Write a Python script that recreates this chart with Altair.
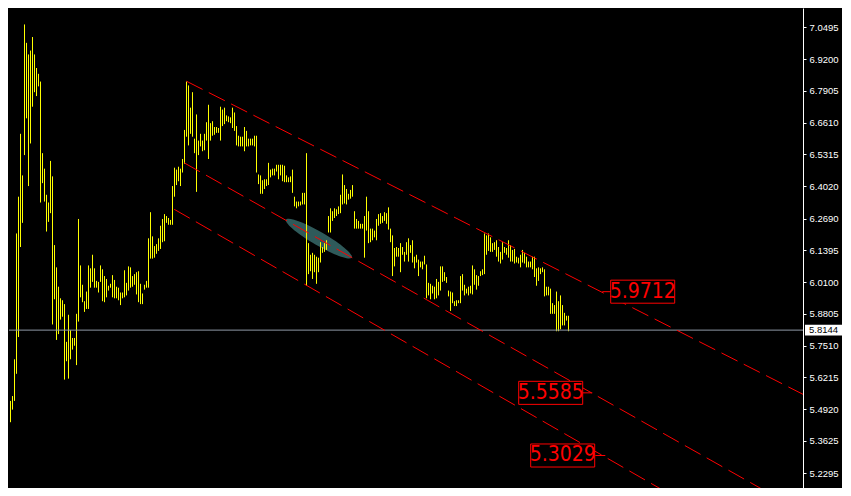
import altair as alt
import pandas as pd

# ---------------- data ----------------
bar_high = [
    5.5256, 5.5454, 5.6954, 6.2087, 6.3587, 6.6153, 6.4455, 7.0614, 6.9864, 6.9390,
    6.9548, 7.0101, 6.9390, 6.8837, 6.8600, 6.8284, 6.5363, 6.4731, 6.3665, 6.3350,
    6.5047, 6.4416, 6.1613, 6.0704, 5.9915, 5.9441, 5.9362, 5.9204, 5.7665, 5.8770,
    5.8139, 5.7823, 5.7823, 5.8809, 6.2678, 6.0783, 5.9994, 5.9323, 5.9717, 6.0783,
    6.0665, 6.1218, 6.0665, 6.0152, 6.0112, 6.0783, 6.0625, 6.0349, 6.0231, 5.9954,
    6.0033, 6.0388, 6.0191, 5.9915, 5.9875, 5.9678, 5.9678, 6.0586, 6.0073, 6.0744,
    6.0704, 6.0349, 6.0428, 6.0507, 6.0546, 6.0033, 5.9639, 5.9994, 6.0152, 6.1889,
    6.2955, 6.1968, 6.1573, 6.1652, 6.1889, 6.2402, 6.2678, 6.2876, 6.2797, 6.2718,
    6.2639, 6.4021, 6.4771, 6.4692, 6.4810, 6.4731, 6.5126, 6.6311, 6.8284, 6.8127,
    6.7219, 6.7850, 6.5955, 6.6942, 6.5876, 6.6153, 6.5876, 6.6153, 6.6626, 6.7337,
    6.6587, 6.6666, 6.6429, 6.6429, 6.6390, 6.7258, 6.7140, 6.7219, 6.6903, 6.6863,
    6.6824, 6.7219, 6.7022, 6.6468, 6.6074, 6.6034, 6.6034, 6.6429, 6.6271, 6.5955,
    6.5955, 6.5955, 6.6074, 6.6074, 6.4494, 6.4455, 6.4258, 6.4297, 6.4297, 6.4968,
    6.4692, 6.4731, 6.4731, 6.4889, 6.4889, 6.4889, 6.4889, 6.4850, 6.4455, 6.4376,
    6.4416, 6.4692, 6.3587, 6.3389, 6.3389, 6.3389, 6.3744, 6.3744, 6.5363, 6.1692,
    6.1218, 6.1297, 6.1218, 6.1139, 6.1099, 6.1731, 6.1534, 6.1692, 6.1810, 6.2797,
    6.3113, 6.2994, 6.3113, 6.3074, 6.3192, 6.3666, 6.4494, 6.4061, 6.3902, 6.3705,
    6.3863, 6.4061, 6.2994, 6.2678, 6.2599, 6.2481, 6.2481, 6.2797, 6.3587, 6.2994,
    6.2284, 6.2284, 6.2205, 6.2678, 6.2876, 6.2915, 6.2797, 6.2955, 6.2915, 6.3152,
    6.2284, 6.2008, 6.1494, 6.1534, 6.1494, 6.1692, 6.1534, 6.1336, 6.1731, 6.1889,
    6.1613, 6.1810, 6.1139, 6.1218, 6.1020, 6.0941, 6.0941, 6.1178, 6.0823, 6.0073,
    6.0033, 5.9954, 5.9915, 6.0231, 6.0112, 6.0744, 6.0744, 6.0507, 6.0310, 5.9757,
    5.9717, 5.9678, 5.9323, 5.9362, 5.9362, 6.0349, 6.0428, 5.9994, 5.9836, 5.9915,
    5.9954, 6.0783, 6.0625, 6.0388, 6.0349, 6.0546, 6.0625, 6.2087, 6.2008, 6.2087,
    6.1929, 6.1692, 6.1731, 6.1810, 6.1534, 6.1336, 6.1731, 6.1534, 6.1494, 6.1810,
    6.1613, 6.1415, 6.1455, 6.1139, 6.1099, 6.1218, 6.1415, 6.1297, 6.1139, 6.0941,
    6.0941, 6.1139, 6.1139, 6.0665, 6.0704, 6.0665, 6.0704, 6.0625, 5.9915, 5.9915,
    5.9836, 5.9244, 5.9165, 5.9717, 5.9323, 5.9560, 5.9165, 5.8849, 5.8730, 5.8730,
]
bar_low = [
    5.4387, 5.4901, 5.5256, 5.6362, 5.7862, 6.1534, 6.2520, 6.5284, 6.6784, 6.4021,
    6.5758, 6.7258, 6.7850, 6.7693, 6.8088, 6.3350, 6.4140, 6.3389, 6.2166, 6.2560,
    6.2915, 5.8375, 5.9402, 5.7744, 5.7981, 5.8572, 5.8690, 5.6125, 5.6875, 5.6165,
    5.6954, 5.7349, 5.7507, 5.6717, 5.8493, 5.9481, 5.9283, 5.8888, 5.9007, 5.9007,
    5.9875, 6.0112, 5.9875, 5.9875, 5.9678, 6.0112, 5.9323, 5.9283, 5.9481, 5.9757,
    5.9875, 5.9481, 5.9441, 5.9441, 5.9362, 5.9165, 5.9441, 5.9481, 5.9560, 5.9757,
    5.9875, 5.9915, 5.9994, 5.9599, 5.9283, 5.9204, 5.9204, 5.9796, 5.9875, 5.9875,
    6.1060, 6.1060, 6.1099, 6.1257, 6.1376, 6.1455, 6.1731, 6.1770, 6.2520, 6.2441,
    6.2441, 6.2441, 6.3587, 6.4061, 6.4218, 6.4021, 6.4573, 6.4929, 6.6034, 6.5679,
    6.6153, 6.6034, 6.5363, 6.3784, 6.5284, 6.5639, 6.5442, 6.5481, 6.5876, 6.5126,
    6.5876, 6.6074, 6.6113, 6.6192, 6.6192, 6.5876, 6.6468, 6.6547, 6.6666, 6.6626,
    6.6587, 6.6390, 6.6271, 6.5679, 6.5639, 6.5639, 6.5639, 6.5442, 6.5639, 6.5639,
    6.5679, 6.5679, 6.5639, 6.4573, 6.4100, 6.3705, 6.3705, 6.3902, 6.4021, 6.4061,
    6.4376, 6.4455, 6.4455, 6.4613, 6.4297, 6.4455, 6.4218, 6.4179, 6.4179, 6.4179,
    6.4179, 6.3744, 6.3192, 6.3113, 6.3192, 6.3231, 6.3271, 6.3271, 5.9954, 6.0428,
    6.0546, 6.0231, 6.0507, 6.0033, 6.0507, 6.0902, 6.1297, 6.1336, 6.1415, 6.2126,
    6.2126, 6.2599, 6.2718, 6.2797, 6.2876, 6.2915, 6.3271, 6.3310, 6.3271, 6.3468,
    6.3507, 6.3587, 6.2284, 6.2284, 6.2284, 6.2284, 6.2284, 6.1099, 6.2205, 6.1692,
    6.1731, 6.1810, 6.1929, 6.1810, 6.2402, 6.2481, 6.2520, 6.2599, 6.2481, 6.2245,
    6.1731, 6.0349, 6.0744, 6.1139, 6.1139, 6.0507, 6.1218, 6.0941, 6.1218, 6.0941,
    6.1297, 6.0902, 6.0665, 6.0902, 6.0349, 6.0704, 6.0625, 6.0823, 5.9441, 5.9560,
    5.9402, 5.9639, 5.9402, 5.9441, 5.9560, 5.9757, 6.0112, 6.0152, 6.0073, 5.9520,
    5.8928, 5.9243, 5.9125, 5.9125, 5.9243, 5.9243, 5.9757, 5.9560, 5.9639, 5.9560,
    5.9639, 5.9599, 5.9994, 5.9796, 5.9954, 6.0349, 6.0388, 6.0428, 6.1218, 6.1376,
    6.1336, 6.1336, 6.1415, 6.1139, 6.0941, 6.0862, 6.1020, 6.1297, 6.1218, 6.1099,
    6.0941, 6.0941, 6.0862, 6.0902, 6.0862, 6.0704, 6.0902, 6.0862, 6.0704, 6.0704,
    6.0704, 6.0625, 6.0310, 5.9954, 6.0152, 6.0428, 6.0507, 5.9520, 5.9560, 5.9560,
    5.8809, 5.8809, 5.8809, 5.8099, 5.8099, 5.8178, 5.8336, 5.8336, 5.8533, 5.8099,
]
bar_index = list(range(len(bar_high)))

axis_ticks = [7.0495, 6.9200, 6.7905, 6.6610, 6.5315, 6.4020, 6.2690, 6.1395,
              6.0100, 5.8805, 5.7510, 5.6215, 5.4920, 5.3625, 5.2295]
current_price = [5.8144]
current_label = ["5.8144"]

# channel lines (start bar, start price) -> (end bar, end price)
line_start_idx = [88.0, 86.85, 81.85]
line_start_price = [6.8297, 6.4968, 6.3073]
line_end_idx = [404.35, 404.35, 404.35]
line_end_price = [5.5189, 5.0340, 4.7948]

# price labels on the channel lines
label_text = ["5.9712", "5.5585", "5.3029"]
label_price = [5.9712, 5.5585, 5.3029]
label_box_idx = [316.1, 270.1, 276.1]
label_link_from = [295.9, 285.9, 292.4]
label_link_to = [300.4, 290.9, 297.4]

# ellipse object
ellipse_idx = [154.2]
ellipse_price = [6.1877]

# ---------------- chart ----------------
W, H = 794, 480
XDOM = [-0.75, 396.25]
YDOM = [5.1703, 7.1285]

xs = alt.Scale(domain=XDOM, nice=False, zero=False)
ys = alt.Scale(domain=YDOM, nice=False, zero=False)

y_axis = alt.Axis(
    orient="right", values=axis_ticks, format=".4f", grid=False,
    domainColor="#FFFFFF", domainWidth=1, tickColor="#FFFFFF", tickSize=3,
    labelColor="#FFFFFF", labelPadding=3, labelFont="Liberation Sans",
    labelFontSize=9.5, labelOverlap=False, labelFlush=False,
)


def Y(field):
    return alt.Y(field, scale=ys, axis=y_axis, title=None)


def X(field):
    return alt.X(field, scale=xs, axis=None, title=None)


bars_df = pd.DataFrame({"i": bar_index, "high": bar_high, "low": bar_low})
lines_df = pd.DataFrame({"i": line_start_idx, "p": line_start_price,
                         "i2": line_end_idx, "p2": line_end_price})
labels_df = pd.DataFrame({"t": label_text, "p": label_price, "c": label_box_idx,
                          "a": label_link_from, "b": label_link_to})
ell_df = pd.DataFrame({"i": ellipse_idx, "p": ellipse_price})
cur_df = pd.DataFrame({"p": current_price, "t": current_label})

ellipse_shape = "M -1 0 A 1 0.18 0 1 1 1 0 A 1 0.18 0 1 1 -1 0 Z"
box_shape = "M -1 -0.36 L 1 -0.36 L 1 0.36 L -1 0.36 Z"
tag_shape = "M -1 -0.29 L 1 -0.29 L 1 0.29 L -1 0.29 Z"

ellipse = alt.Chart(ell_df).mark_point(
    shape=ellipse_shape, size=5776, angle=30, filled=True,
    color="#2F5A5A", opacity=1, strokeWidth=0,
).encode(x=X("i:Q"), y=Y("p:Q"))

bars = alt.Chart(bars_df).mark_rule(color="#FFFF00", strokeWidth=1).encode(
    x=X("i:Q"), y=Y("high:Q"), y2="low:Q")

price_line = alt.Chart(cur_df).mark_rule(color="#8E98A6", strokeWidth=1).encode(
    y=Y("p:Q"))

channel = alt.Chart(lines_df).mark_rule(
    color="#FF0000", strokeWidth=1, strokeDash=[18, 7], clip=True,
).encode(x=X("i:Q"), y=Y("p:Q"), x2="i2:Q", y2="p2:Q")

links = alt.Chart(labels_df).mark_rule(color="#FF0000", strokeWidth=1).encode(
    x=X("a:Q"), x2="b:Q", y=Y("p:Q"))

boxes = alt.Chart(labels_df).mark_point(
    shape=box_shape, size=4096, filled=True, fill="#000000",
    stroke="#FF0000", strokeWidth=1, opacity=1,
).encode(x=X("c:Q"), y=Y("p:Q"))

box_text = alt.Chart(labels_df).mark_text(
    color="#FF0000", fontSize=21, align="center", baseline="middle",
    font="Liberation Sans Narrow, DejaVu Sans Condensed, Liberation Sans",
).encode(x=X("c:Q"), y=Y("p:Q"), text="t:N")

tag = alt.Chart(cur_df).mark_point(
    shape=tag_shape, size=1369, filled=True, fill="#FFFFFF",
    stroke="#FFFFFF", strokeWidth=0, opacity=1,
).encode(x=alt.value(W + 20.5), y=Y("p:Q"))

tag_text = alt.Chart(cur_df).mark_text(
    color="#000000", fontSize=9.5, align="center", baseline="middle",
    font="Liberation Sans",
).encode(x=alt.value(W + 20.5), y=Y("p:Q"), text="t:N")

chart = alt.layer(
    ellipse, bars, price_line, channel, links, boxes, box_text, tag, tag_text
).properties(
    width=W, height=H, padding=0, background="#000000"
).configure_view(strokeWidth=0)

chart.save("out.html", embed_options={"renderer": "svg", "actions": False})
